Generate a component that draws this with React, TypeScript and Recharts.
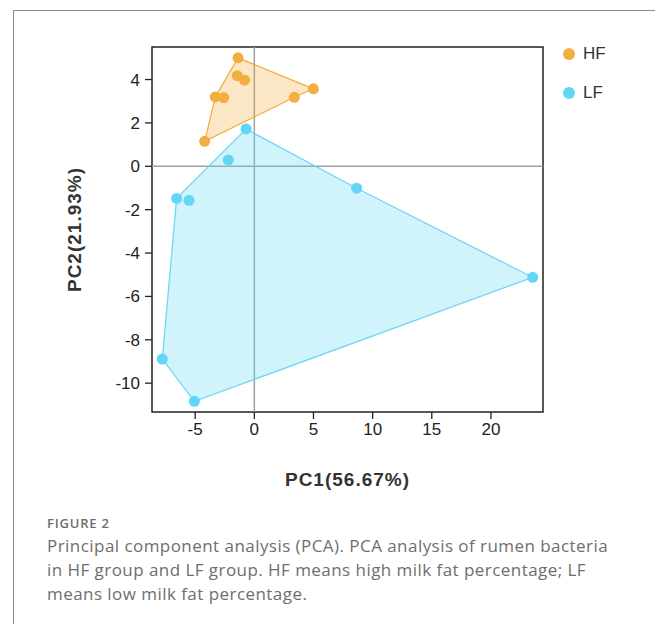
import React from 'react';
import {
  ScatterChart,
  Scatter,
  XAxis,
  YAxis,
  ReferenceLine,
  ReferenceArea,
} from 'recharts';

// PCA scores
const hfPC1 = [-1.38, -1.44, -0.82, -3.3, -2.59, -4.2, 4.99, 3.38];
const hfPC2 = [5.0, 4.18, 3.97, 3.2, 3.17, 1.15, 3.57, 3.18];
const hfHullOrder = [0, 6, 7, 5, 3];

const lfPC1 = [-0.7, -2.2, -6.57, -5.52, 8.65, 23.53, -7.78, -5.07];
const lfPC2 = [1.72, 0.29, -1.48, -1.57, -1.01, -5.12, -8.89, -10.84];
const lfHullOrder = [0, 4, 5, 7, 6, 2];

const xTicks = [-5, 0, 5, 10, 15, 20];
const yTicks = [-10, -8, -6, -4, -2, 0, 2, 4];
const xDomain = [-8.65, 24.4];
const yDomain = [-11.33, 5.5];

const groups = [
  { name: 'HF', color: '#f2ae3f', line: '#f0ad3e', fill: 'rgba(242,174,63,0.3)' },
  { name: 'LF', color: '#62d6f6', line: '#68d6f4', fill: 'rgba(98,214,246,0.3)' },
];

const toPoints = (xs: number[], ys: number[]) => xs.map((x, i) => ({ x, y: ys[i] }));

const hfData = toPoints(hfPC1, hfPC2);
const lfData = toPoints(lfPC1, lfPC2);
const hfHull = hfHullOrder.map((i) => hfData[i]);
const lfHull = lfHullOrder.map((i) => lfData[i]);

const axisFont = { fontFamily: 'Liberation Sans, Arial, sans-serif', fontSize: 17, fill: '#222' };
const titleStyle = {
  fontFamily: 'Liberation Sans, Arial, sans-serif',
  fontSize: 19,
  fontWeight: 'bold',
  letterSpacing: 1,
  fill: '#333',
};

const Dot = (props: any) => <circle cx={props.cx} cy={props.cy} r={5.5} fill={props.fill} />;
const NoDot = () => <g />;

// legend sits outside the plot so it takes no room from it
const LegendBox = () => (
  <div
    style={{
      position: 'absolute',
      left: 562,
      top: 42,
      fontFamily: 'Liberation Sans, Arial, sans-serif',
      fontSize: 17,
      color: '#333',
    }}
  >
    {groups.map((g, i) => (
      <div key={g.name} style={{ display: 'flex', alignItems: 'center', height: 24, marginBottom: i === 0 ? 14.7 : 0 }}>
        <svg width={14} height={14} style={{ marginRight: 7 }}>
          <circle cx={7} cy={7} r={6} fill={g.color} />
        </svg>
        <span>{g.name}</span>
      </div>
    ))}
  </div>
);

const App = () => {
  return (
    <div style={{ position: 'absolute', left: 0, top: 0, width: 655, height: 624, background: '#fff' }}>
      <div
        style={{
          position: 'absolute',
          left: 13,
          top: 10,
          width: 642,
          height: 614,
          borderTop: '1px solid #8c8c8c',
          borderLeft: '1px solid #8c8c8c',
        }}
      />
      <div style={{ position: 'absolute', left: 0, top: 0 }}>
        <ScatterChart width={655} height={500} margin={{ top: 47, right: 112, bottom: 8, left: 72 }}>
          <XAxis
            type="number"
            dataKey="x"
            domain={xDomain}
            ticks={xTicks}
            allowDataOverflow
            axisLine={false}
            tickLine={{ stroke: '#222', strokeWidth: 1.3 }}
            tickSize={7}
            tickMargin={4}
            tick={axisFont}
            height={80}
            label={{ value: 'PC1(56.67%)', position: 'insideBottom', offset: 6, style: titleStyle }}
          />
          <YAxis
            type="number"
            dataKey="y"
            domain={yDomain}
            ticks={yTicks}
            allowDataOverflow
            axisLine={false}
            tickLine={{ stroke: '#222', strokeWidth: 1.3 }}
            tickSize={7}
            tickMargin={5}
            tick={axisFont}
            width={80}
            label={{
              value: 'PC2(21.93%)',
              angle: -90,
              position: 'insideLeft',
              offset: 2,
              style: { ...titleStyle, textAnchor: 'middle' },
            }}
          />
          <ReferenceLine x={0} stroke="#a0a0a0" strokeWidth={1.5} />
          <ReferenceLine y={0} stroke="#a0a0a0" strokeWidth={1.5} />
          <Scatter
            name="LF hull"
            data={lfHull}
            fill={groups[1].color}
            line={{ stroke: groups[1].line, strokeWidth: 1.2, fill: groups[1].fill }}
            lineType="joint"
            lineJointType="linearClosed"
            shape={NoDot}
            legendType="none"
            isAnimationActive={false}
          />
          <Scatter
            name="HF hull"
            data={hfHull}
            fill={groups[0].color}
            line={{ stroke: groups[0].line, strokeWidth: 1.2, fill: groups[0].fill }}
            lineType="joint"
            lineJointType="linearClosed"
            shape={NoDot}
            legendType="none"
            isAnimationActive={false}
          />
          <Scatter name="HF" data={hfData} fill={groups[0].color} shape={Dot} isAnimationActive={false} />
          <Scatter name="LF" data={lfData} fill={groups[1].color} shape={Dot} isAnimationActive={false} />
          <ReferenceArea
            x1={xDomain[0]}
            x2={xDomain[1]}
            y1={yDomain[0]}
            y2={yDomain[1]}
            fill="none"
            fillOpacity={0}
            stroke="#222"
            strokeWidth={1.5}
          />
        </ScatterChart>
      </div>
      <LegendBox />
      <div
        style={{
          position: 'absolute',
          left: 47,
          top: 514,
          fontFamily: '"Open Sans", sans-serif',
          color: '#6e6e6e',
        }}
      >
        <div style={{ fontSize: 13, fontWeight: 600, lineHeight: '18px', letterSpacing: 0.8, marginBottom: 2 }}>
          FIGURE 2
        </div>
        <div style={{ fontSize: 17, lineHeight: '24px', letterSpacing: 0.45, whiteSpace: 'nowrap' }}>
          <div>Principal component analysis (PCA). PCA analysis of rumen bacteria</div>
          <div>in HF group and LF group. HF means high milk fat percentage; LF</div>
          <div>means low milk fat percentage.</div>
        </div>
      </div>
    </div>
  );
};

export default App;
